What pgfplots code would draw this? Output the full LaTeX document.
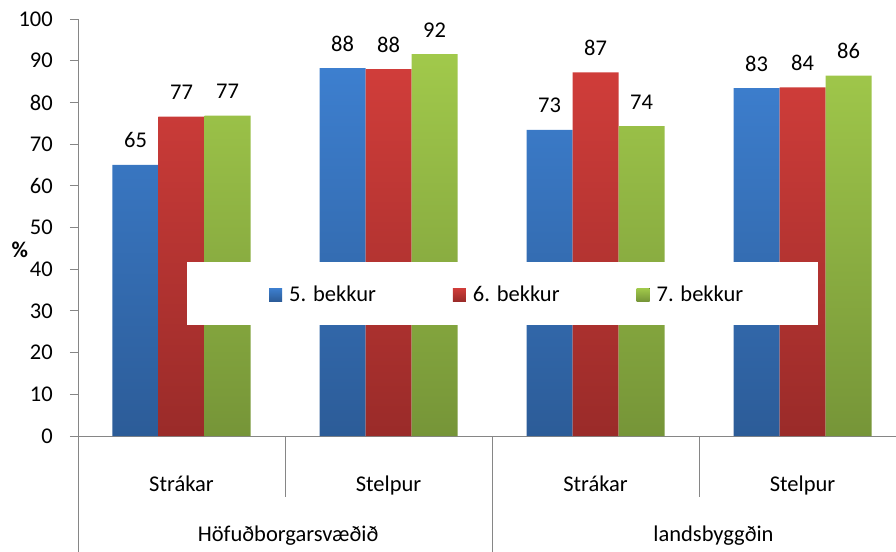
\documentclass[border=0pt]{standalone}
\usepackage{pgfplots}
\pgfplotsset{compat=1.18}
\usepackage{fontspec}
\setmainfont{Carlito}
\definecolor{axgray}{HTML}{868686}
\definecolor{bTop}{HTML}{3D7FCF}
\definecolor{bBot}{HTML}{2C5C98}
\definecolor{rTop}{HTML}{D03D3A}
\definecolor{rBot}{HTML}{9A2B29}
\definecolor{gTop}{HTML}{A1C94B}
\definecolor{gBot}{HTML}{769538}
\begin{document}
\begin{tikzpicture}[font=\fontsize{22.5bp}{27bp}\selectfont]
\begin{axis}[
  at={(0,0)}, anchor=south west,
  scale only axis, width=818bp, height=417bp,
  xmin=0, xmax=3.9517, ymin=0, ymax=100,
  axis x line*=bottom, axis y line*=left,
  axis line style={axgray, line width=0.8bp},
  ytick distance=10,
  ytick style={axgray, line width=0.8bp},
  tick align=outside, major tick length=8bp,
  yticklabel style={font=\fontsize{22.5bp}{27bp}\selectfont, inner xsep=17bp},
  /pgf/number format/assume math mode=true,
  xtick={0.5,1.5,2.5,3.5},
  xticklabels={Strákar,Stelpur,Strákar,Stelpur},
  xtick style={draw=none},
  xticklabel style={anchor=base, yshift=-47bp, font=\fontsize{22.5bp}{27bp}\selectfont},
  ylabel={\textbf{\%}}, ylabel style={rotate=-90, at={(axis description cs:-0.071,0.446)}, anchor=center},
  ybar=0pt, bar width=46bp,
  clip=false,
  nodes near coords,
  nodes near coords style={/pgf/number format/fixed, /pgf/number format/precision=0, /pgf/number format/assume math mode=true},
  every node near coord/.append style={anchor=base, yshift=17bp, font=\fontsize{22.5bp}{27bp}\selectfont, text=black},
  legend columns=3,
  legend style={draw=none, fill=none, inner sep=0pt, anchor=west, at={(axis description cs:0.2335,0.339)},
    font=\fontsize{22.5bp}{27bp}\selectfont,
    /tikz/every even column/.append style={column sep=75bp}},
  legend image code/.code={\fill[#1, draw=none] (0bp,-6.5bp) rectangle (13bp,6.5bp); \path (0bp,0bp) -- (18bp,0bp);},
]
\addplot[draw=none, top color=bTop, bottom color=bBot] coordinates {(0.5,65.0) (1.5,88.2) (2.5,73.4) (3.5,83.4)};
\addplot[draw=none, top color=rTop, bottom color=rBot] coordinates {(0.5,76.6) (1.5,88.0) (2.5,87.2) (3.5,83.6)};
\addplot[draw=none, top color=gTop, bottom color=gBot] coordinates {(0.5,76.8) (1.5,91.6) (2.5,74.3) (3.5,86.4)};
\legend{5. bekkur,6. bekkur,7. bekkur}
\fill[white] (axis cs:0.5266,26.6) rectangle (axis cs:3.575,41.7);
\draw[axgray, line width=0.8bp] (axis cs:0,0) -- ++(0,-116bp);
\draw[axgray, line width=0.8bp] (axis cs:1,0) -- ++(0,-61bp);
\draw[axgray, line width=0.8bp] (axis cs:2,0) -- ++(0,-116bp);
\draw[axgray, line width=0.8bp] (axis cs:3,0) -- ++(0,-61bp);
\node[anchor=base] at ([yshift=-105bp]axis cs:1.015,0) {Höfuðborgarsvæðið};
\node[anchor=base] at ([yshift=-105bp]axis cs:3.07,0) {landsbyggðin};
\end{axis}
\pgfresetboundingbox
\path (-78bp,-116bp) rectangle (818bp,436bp);
\end{tikzpicture}
\end{document}
